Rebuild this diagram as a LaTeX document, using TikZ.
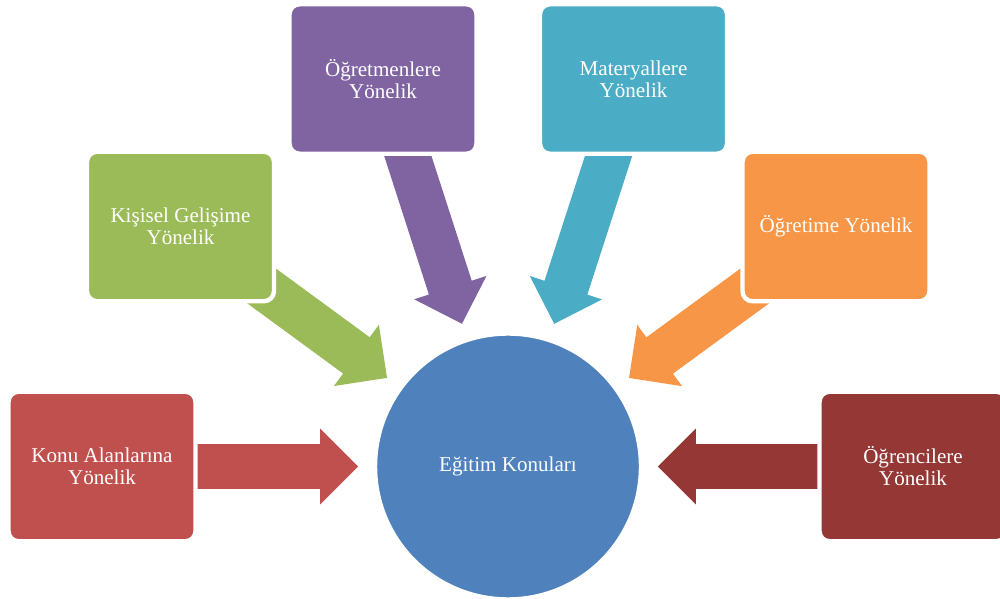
\documentclass[tikz,border=0pt]{standalone}
\usepackage{fontspec}
\setmainfont{Liberation Serif}
\usetikzlibrary{calc}
\usetikzlibrary{backgrounds}
\definecolor{hubblue}{HTML}{4F81BD}
\definecolor{konured}{HTML}{C0504D}
\definecolor{kisigreen}{HTML}{9BBB59}
\definecolor{ogretpurple}{HTML}{8064A2}
\definecolor{materteal}{HTML}{4BACC6}
\definecolor{ogretorange}{HTML}{F79646}
\definecolor{ogrencred}{HTML}{953735}
\tikzset{
	topic/.style={rectangle, rounded corners=0.2cm, draw=white, line width=2.5pt,
		minimum width=3.74cm, minimum height=2.99cm, align=center, text=white,
		font=\fontsize{12}{12.5}\selectfont},
	hubnode/.style={circle, draw=white, line width=2.5pt, minimum size=5.32cm,
		text=white, font=\fontsize{12}{12.5}\selectfont}
}
\newcommand{\blockarrow}[3] % from node, to node, colour
{
	% tip sits 150px off the hub centre
	\coordinate (tip) at ($(#2.center)!3cm!(#1.center)$);
	% base of the head
	\coordinate (neck) at ($(#2.center)!3.76cm!(#1.center)$);
	\fill[#3] ($(#1.center)!0.45cm!90:(tip)$)
		-- ($(neck)!0.45cm!90:(tip)$)
		-- ($(neck)!0.76cm!90:(tip)$)
		-- (tip)
		-- ($(neck)!0.76cm!-90:(tip)$)
		-- ($(neck)!0.45cm!-90:(tip)$)
		-- ($(#1.center)!0.45cm!-90:(tip)$) -- cycle;
}

\begin{document}
\begin{tikzpicture}[x=0.02cm, y=0.02cm]
	% 1000 x 598 px, 1px = 0.2mm
	\useasboundingbox (0,0) rectangle (1000,598);
	
	\node[hubnode, fill=hubblue] (hub) at (508,131.5) {Eğitim Konuları};
	
	% the six topics round the hub
	\node[topic, fill=konured] (konu) at (102,131.5) {Konu Alanlarına\\Yönelik};
	\node[topic, fill=kisigreen] (kisisel) at (180.5,371.5) {Kişisel Gelişime\\Yönelik};
	\node[topic, fill=ogretpurple] (ogretmen) at (383,519) {Öğretmenlere\\Yönelik};
	\node[topic, fill=materteal] (materyal) at (633.5,519) {Materyallere\\Yönelik};
	\node[topic, fill=ogretorange] (ogretim) at (836,371.5) {Öğretime Yönelik};
	\node[topic, fill=ogrencred] (ogrenci) at (913,131.5) {Öğrencilere\\Yönelik};
	
	% arrows go under the boxes
	\begin{scope}[on background layer]
		\blockarrow{konu}{hub}{konured};
		\blockarrow{kisisel}{hub}{kisigreen};
		\blockarrow{ogretmen}{hub}{ogretpurple};
		\blockarrow{materyal}{hub}{materteal};
		\blockarrow{ogretim}{hub}{ogretorange};
		\blockarrow{ogrenci}{hub}{ogrencred};
	\end{scope}
	
\end{tikzpicture}
\end{document}
